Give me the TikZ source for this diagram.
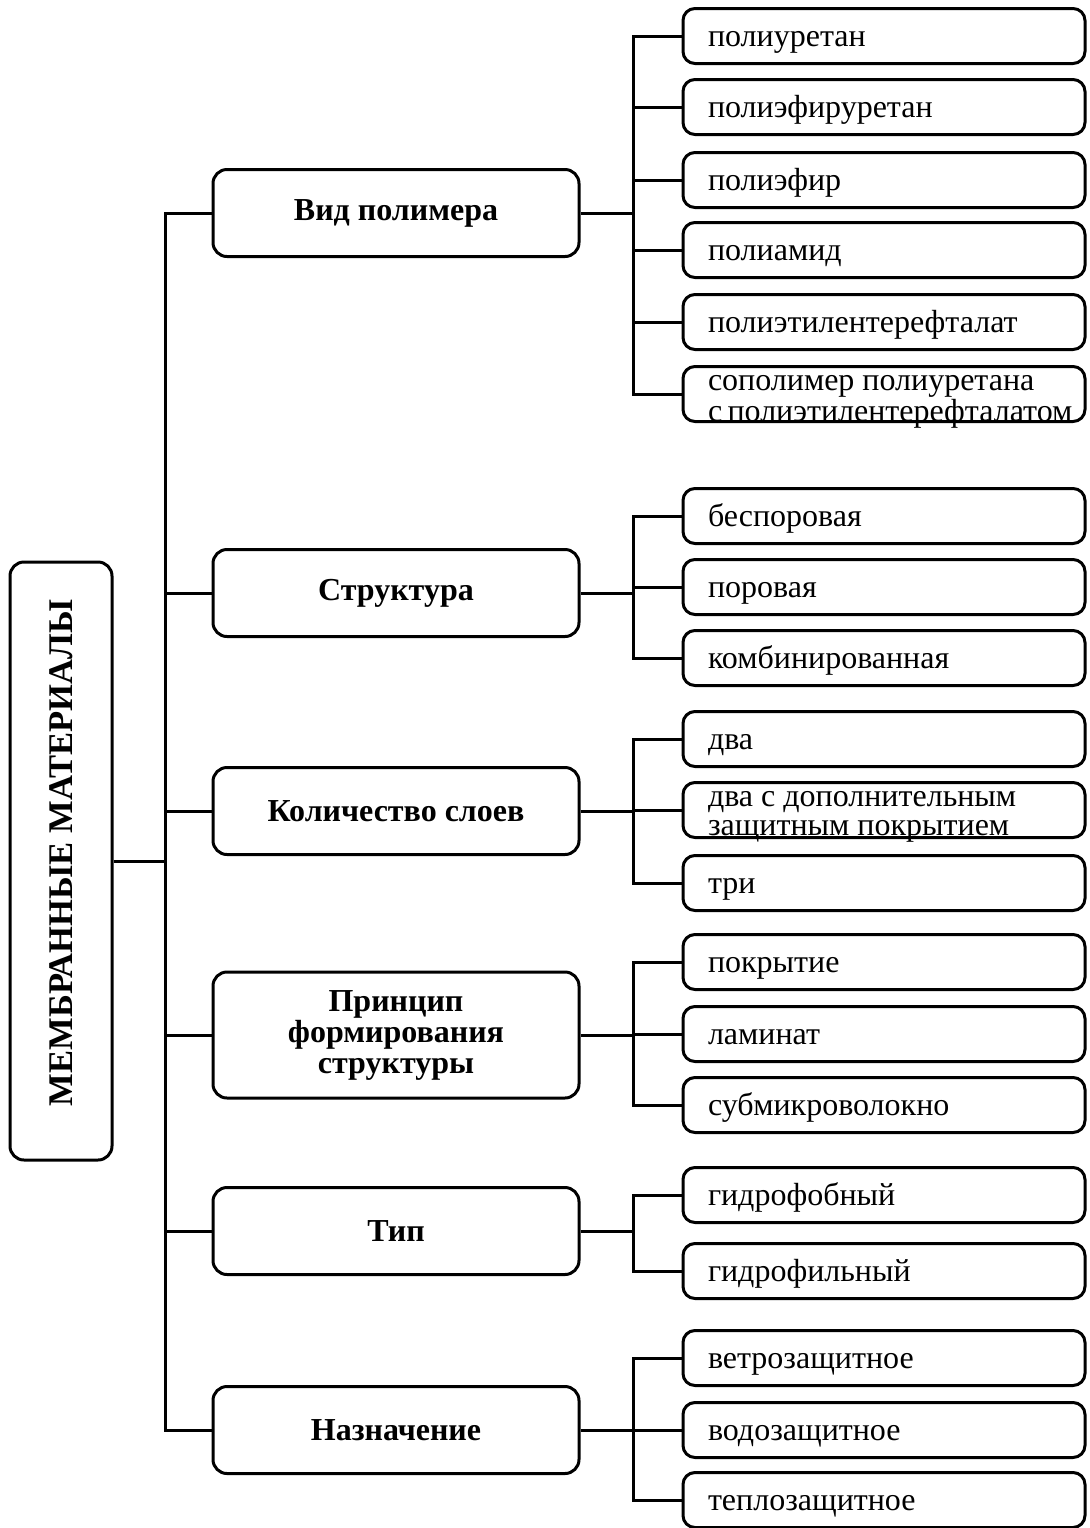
\documentclass[tikz,border=0pt]{standalone}
\usepackage{fontspec}
\setmainfont{Liberation Serif}
\usepackage{tikz}

\begin{document}
\begin{tikzpicture}[x=0.5pt,y=-0.5pt,line width=1.5pt,
	root/.style={draw,rounded corners=7pt,minimum width=51pt,minimum height=299pt,inner sep=0pt},
	rootlbl/.style={rotate=90,inner sep=0pt,font=\bfseries\fontsize{17.3}{18}\selectfont},
	mid/.style={draw,rounded corners=7pt,minimum width=183pt,minimum height=43.5pt,inner sep=0pt,align=center,font=\bfseries\fontsize{16}{15.5}\selectfont},
	leaf/.style={draw,rounded corners=6pt,minimum height=27.5pt,text width=176pt,inner xsep=12.5pt,inner ysep=0pt,align=flush left,text height=10.5pt,text depth=0pt,font=\fontsize{16}{14.5}\selectfont},
	leaftwo/.style={leaf,text depth=14.5pt}]
	
	\useasboundingbox (0,0) rectangle (1089,1528);
	
	\coordinate (tr) at (165,0);
	\coordinate (br) at (633,0);
	
	\node[root] (root) at (61,861) {};
	\node[rootlbl] (rootname) at ([yshift=4pt]root.center) {МЕМБРАННЫЕ МАТЕРИАЛЫ};
	
	\node[mid] (vid) at (396,213) {Вид полимера};
	\node[mid] (str) at (396,593) {Структура};
	\node[mid] (kol) at (396,811) {Количество слоев};
	\node[mid,minimum height=63pt] (prn) at (396,1035) {Принцип\\формирования\\структуры};
	\node[mid] (tip) at (396,1231) {Тип};
	\node[mid] (naz) at (396,1430) {Назначение};
	
	\node[leaf] (vid1) at (884,36) {полиуретан};
	\node[leaf] (vid2) at (884,107) {полиэфируретан};
	\node[leaf] (vid3) at (884,180) {полиэфир};
	\node[leaf] (vid4) at (884,250) {полиамид};
	\node[leaf] (vid5) at (884,322) {полиэтилентерефталат};
	\node[leaftwo] (vid6) at (884,394) {сополимер полиуретана\\с~полиэтилентерефталатом};
	
	\node[leaf] (str1) at (884,516) {беспоровая};
	\node[leaf] (str2) at (884,587) {поровая};
	\node[leaf] (str3) at (884,658) {комбинированная};
	
	\node[leaf] (kol1) at (884,739) {два};
	\node[leaftwo] (kol2) at (884,810) {два с дополнительным\\защитным покрытием};
	\node[leaf] (kol3) at (884,883) {три};
	
	\node[leaf] (prn1) at (884,962) {покрытие};
	\node[leaf] (prn2) at (884,1034) {ламинат};
	\node[leaf] (prn3) at (884,1105) {субмикроволокно};
	
	\node[leaf] (tip1) at (884,1195) {гидрофобный};
	\node[leaf] (tip2) at (884,1271) {гидрофильный};
	
	\node[leaf] (naz1) at (884,1358) {ветрозащитное};
	\node[leaf] (naz2) at (884,1430) {водозащитное};
	\node[leaf] (naz3) at (884,1500) {теплозащитное};
	
	\draw (root.east) -- (root.east -| tr);
	\draw (vid.west) -- (vid.west -| tr) -- (naz.west -| tr) -- (naz.west);
	\draw (str.west) -- (str.west -| tr);
	\draw (kol.west) -- (kol.west -| tr);
	\draw (prn.west) -- (prn.west -| tr);
	\draw (tip.west) -- (tip.west -| tr);
	
	\draw (vid1.west) -- (vid1.west -| br) -- (vid6.west -| br) -- (vid6.west);
	\draw (vid.east) -- (vid.east -| br);
	\draw (vid2.west) -- (vid2.west -| br);
	\draw (vid3.west) -- (vid3.west -| br);
	\draw (vid4.west) -- (vid4.west -| br);
	\draw (vid5.west) -- (vid5.west -| br);
	
	\draw (str1.west) -- (str1.west -| br) -- (str3.west -| br) -- (str3.west);
	\draw (str.east) -- (str.east -| br);
	\draw (str2.west) -- (str2.west -| br);
	
	\draw (kol1.west) -- (kol1.west -| br) -- (kol3.west -| br) -- (kol3.west);
	\draw (kol.east) -- (kol.east -| br);
	\draw (kol2.west) -- (kol2.west -| br);
	
	\draw (prn1.west) -- (prn1.west -| br) -- (prn3.west -| br) -- (prn3.west);
	\draw (prn.east) -- (prn.east -| br);
	\draw (prn2.west) -- (prn2.west -| br);
	
	\draw (tip1.west) -- (tip1.west -| br) -- (tip2.west -| br) -- (tip2.west);
	\draw (tip.east) -- (tip.east -| br);
	
	\draw (naz1.west) -- (naz1.west -| br) -- (naz3.west -| br) -- (naz3.west);
	\draw (naz.east) -- (naz.east -| br);
	\draw (naz2.west) -- (naz2.west -| br);
\end{tikzpicture}
\end{document}
